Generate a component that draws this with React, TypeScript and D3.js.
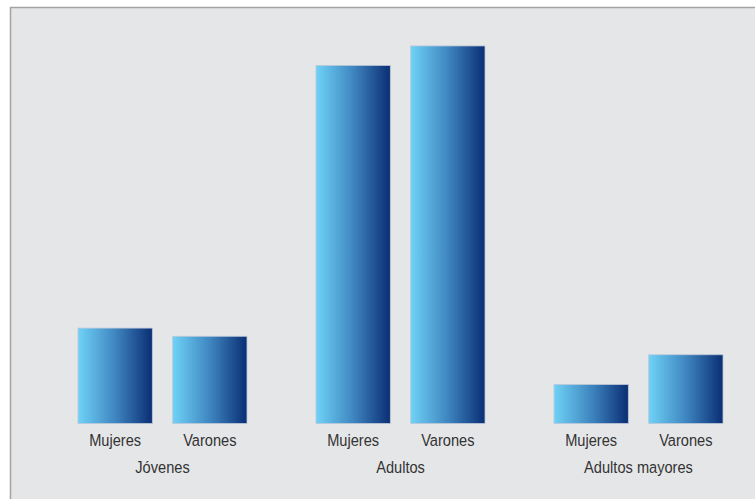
import React from "react";
import * as d3 from "d3";

const groups = ["Jóvenes", "Adultos", "Adultos mayores"];
const sexes = ["Mujeres", "Varones"];
const mujeres = [9.3, 34.9, 3.8];
const varones = [8.5, 36.8, 6.7];

const W = 755;
const H = 499;

function Label({ x, y, text }: { x: number; y: number; text: string }) {
  return (
    <text
      transform={`translate(${x},${y}) scale(0.86,1)`}
      textAnchor="middle"
      fontSize={17}
      fill="#333333"
    >
      {text}
    </text>
  );
}

export default function App() {
  const baseline = 423.5;
  const y = d3.scaleLinear().domain([0, 40]).range([baseline, baseline - 40 * 10.26]);
  const x0 = d3.scaleBand<string>().domain(groups).range([78, 723]).paddingInner(0.29).paddingOuter(0);
  const x1 = d3.scaleBand<string>().domain(sexes).range([0, x0.bandwidth()]).paddingInner(0.215).paddingOuter(0);
  const values: Record<string, number[]> = { Mujeres: mujeres, Varones: varones };
  const font = "'Liberation Sans', Arial, sans-serif";

  return (
    <svg width={W} height={H} style={{ position: "absolute", left: 0, top: 0 }} fontFamily={font}>
      <defs>
        <linearGradient id="barGrad" x1="0" x2="1" y1="0" y2="0">
          <stop offset="0" stopColor="#6fd2f7" />
          <stop offset="0.5" stopColor="#3f86c0" />
          <stop offset="1" stopColor="#0a2e74" />
        </linearGradient>
      </defs>
      <rect x={0} y={0} width={W} height={H} fill="#ffffff" />
      <rect x={10.5} y={7.5} width={W + 10} height={H + 10} fill="#e5e6e8" stroke="#a3a3a3" strokeWidth={1.5} />
      {groups.map((g, gi) => (
        <g key={g} transform={`translate(${x0(g)},0)`}>
          {sexes.map((s) => {
            const v = values[s][gi];
            return (
              <g key={s}>
                <rect
                  x={x1(s)}
                  y={y(v)}
                  width={x1.bandwidth()}
                  height={baseline - y(v)}
                  fill="url(#barGrad)"
                  stroke="#bcc7d8"
                  strokeWidth={0.8}
                />
                <Label x={(x1(s) as number) + x1.bandwidth() / 2} y={446} text={s} />
              </g>
            );
          })}
          <Label x={x0.bandwidth() / 2} y={473} text={g} />
        </g>
      ))}
    </svg>
  );
}
